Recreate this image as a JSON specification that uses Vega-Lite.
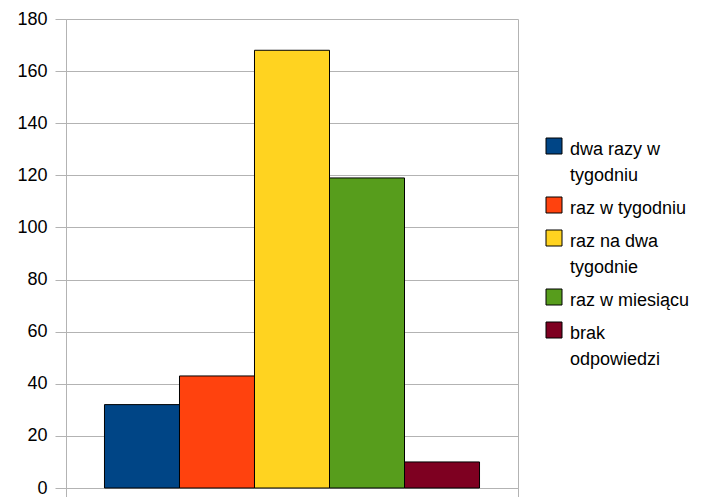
{
  "$schema": "https://vega.github.io/schema/vega-lite/v6.json",
  "width": 452,
  "height": 469,
  "autosize": {"type": "none"},
  "padding": {"left": 66, "top": 19, "right": 205, "bottom": 9},
  "background": "white",
  "config": {
    "font": "Liberation Sans",
    "view": {"stroke": null}
  },
  "data": {
    "values": [
      {"group": "", "kategoria": "dwa razy w\ntygodniu", "liczba": 32, "order": 1},
      {"group": "", "kategoria": "raz w tygodniu", "liczba": 43, "order": 2},
      {"group": "", "kategoria": "raz na dwa\ntygodnie", "liczba": 168, "order": 3},
      {"group": "", "kategoria": "raz w miesiącu", "liczba": 119, "order": 4},
      {"group": "", "kategoria": "brak\nodpowiedzi", "liczba": 10, "order": 5}
    ]
  },
  "mark": {"type": "bar", "stroke": "black", "strokeWidth": 1},
  "encoding": {
    "x": {
      "field": "group",
      "type": "nominal",
      "scale": {"paddingInner": 0, "paddingOuter": 0},
      "axis": {
        "title": null,
        "labels": false,
        "tickBand": "extent",
        "tickSize": 9,
        "tickColor": "#b3b3b3",
        "grid": true,
        "gridColor": "#b3b3b3",
        "domainColor": "#b3b3b3"
      }
    },
    "xOffset": {
      "field": "kategoria",
      "type": "nominal",
      "sort": {"field": "order"},
      "scale": {"paddingInner": 0, "paddingOuter": 0.513}
    },
    "y": {
      "field": "liczba",
      "type": "quantitative",
      "scale": {"domain": [0, 180], "nice": false},
      "axis": {
        "title": null,
        "values": [0, 20, 40, 60, 80, 100, 120, 140, 160, 180],
        "tickSize": 11,
        "tickColor": "#b3b3b3",
        "gridColor": "#b3b3b3",
        "domainColor": "#b3b3b3",
        "labelFontSize": 18,
        "labelColor": "black",
        "labelPadding": 8
      }
    },
    "color": {
      "field": "kategoria",
      "type": "nominal",
      "sort": {"field": "order"},
      "scale": {
        "range": ["#004586", "#ff420e", "#ffd320", "#579d1c", "#7e0021"]
      },
      "legend": {
        "title": null,
        "orient": "none",
        "legendX": 479,
        "legendY": 118,
        "symbolType": "square",
        "symbolSize": 256,
        "symbolStrokeColor": "black",
        "symbolStrokeWidth": 1,
        "labelFontSize": 18,
        "labelColor": "black",
        "labelLimit": 300,
        "labelExpr": "split(datum.label, '\\n')",
        "labelBaseline": "top",
        "labelOffset": 7,
        "rowPadding": 10,
        "encode": {
          "labels": {
            "update": {
              "lineHeight": {"value": 26},
              "dy": {"value": -5}
            }
          }
        }
      }
    }
  }
}
